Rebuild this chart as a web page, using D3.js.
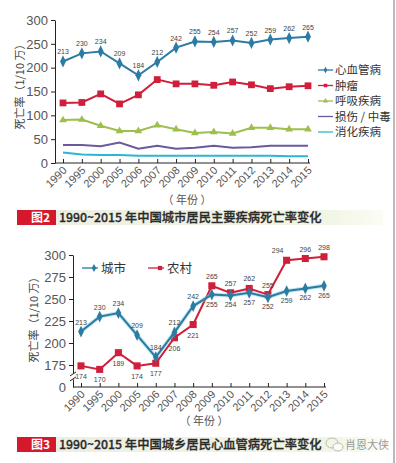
<!DOCTYPE html>
<html>
<head>
<meta charset="utf-8">
<script src="https://cdn.jsdelivr.net/npm/d3@7"></script>
<style>
  body { margin: 0; background: #fff; }
  svg { display: block; font-family: "Liberation Sans", Arial, sans-serif; }
  .cn { font-family: "Noto Sans CJK SC", sans-serif; }
  .tick text { fill: #555; }
  .domain, .tick line { stroke: #222; }
</style>
</head>
<body>
<div id="chart"></div>
<script>
// figure 2: urban residents, main diseases
const years = ["1990","1995","2000","2005","2006","2007","2008","2009","2010","2011","2012","2013","2014","2015"];
const cardio = [213, 230, 234, 209, 184, 212, 242, 255, 254, 257, 252, 259, 262, 265];
const tumor = [126, 127, 145, 124, 143, 175, 166, 166, 163, 170, 164, 156, 160, 162];
const respiratory = [90, 91, 78, 67, 67, 79, 71, 63, 65, 62, 74, 74, 71, 71];
const injury = [38, 38, 35, 43, 30, 36, 30, 32, 36, 32, 33, 36, 36, 36];
const digestive = [22, 18, 17, 17, 15, 15, 15, 15, 15, 15, 15, 15, 14, 14];
const yTicks1 = [0, 50, 100, 150, 200, 250, 300];

// figure 3: urban vs rural cardiovascular
const urban = [213, 230, 234, 209, 184, 212, 242, 255, 254, 257, 252, 259, 262, 265];
const rural = [174, 170, 189, 174, 177, 206, 221, 265, 257, 262, 255, 294, 296, 298];
const yTicks2 = [175, 200, 225, 250, 275, 300];

const W = 396, H = 463;
const svg = d3.select("#chart").append("svg").attr("width", W).attr("height", H);

const blue = "#2b7ba2", red = "#cf1f3a";

const series1 = [
    { name: "心血管病", values: cardio, color: blue, marker: "diamond", size: 30, labels: true },
    { name: "肿瘤", values: tumor, color: red, marker: "square", size: 46 },
    { name: "呼吸疾病", values: respiratory, color: "#9dbf4c", marker: "triangle", size: 26 },
    { name: "损伤 / 中毒", values: injury, color: "#6a5a9c" },
    { name: "消化疾病", values: digestive, color: "#2ab6d4" }
];

const symbolType = { diamond: d3.symbolDiamond, square: d3.symbolSquare, triangle: d3.symbolTriangle };

function drawCaption(y, num, text) {
    const defs = svg.append("defs");
    const gid = "cap" + num;
    const g = defs.append("linearGradient").attr("id", gid);
    g.append("stop").attr("offset", "0%").attr("stop-color", "#eceee3");
    g.append("stop").attr("offset", "85%").attr("stop-color", "#f1f5e4");
    g.append("stop").attr("offset", "100%").attr("stop-color", "#fbfcf6");
    svg.append("rect").attr("x", 17).attr("y", y).attr("width", 366).attr("height", 15)
        .attr("fill", `url(#${gid})`);
    svg.append("rect").attr("x", 17).attr("y", y).attr("width", 39).attr("height", 15)
        .attr("fill", "#d5182b");
    svg.append("text").attr("class", "cn").attr("x", 50).attr("y", y + 12)
        .attr("text-anchor", "end").attr("fill", "#fff").attr("font-size", 12).attr("font-weight", "bold")
        .text("图" + num);
    svg.append("text").attr("class", "cn").attr("x", 59).attr("y", y + 12)
        .attr("fill", "#2a2a2a").attr("font-size", 12.3).attr("font-weight", 500)
        .attr("stroke", "#2a2a2a").attr("stroke-width", 0.3)
        .text(text);
}

function drawYTitle(x, y) {
    svg.append("text").attr("class", "cn")
        .attr("transform", `translate(${x},${y}) rotate(-90)`)
        .attr("text-anchor", "middle").attr("fill", "#444").attr("font-size", 11)
        .text("死亡率（1/10 万）");
}

function drawXAxis(g, x, yPos, x0, x1) {
    const axis = g.append("g").attr("transform", `translate(0,${yPos})`)
        .call(d3.axisBottom(x).tickSize(-4).tickSizeOuter(0));
    axis.select(".domain").remove();
    g.append("line").attr("x1", x0).attr("x2", x1).attr("y1", yPos).attr("y2", yPos)
        .attr("stroke", "#222");
    axis.selectAll(".tick text")
        .attr("font-size", 11).attr("text-anchor", "end")
        .attr("dy", 0).attr("y", 0)
        .attr("transform", "translate(4,8) rotate(-45)");
}

// ---------- figure 2 ----------
const g1 = svg.append("g");
const x1 = d3.scalePoint().domain(years).range([63, 308]);
const y1 = d3.scaleLinear().domain([0, 300]).range([163, 20]);

const yAxis1 = g1.append("g").attr("transform", "translate(55,0)")
    .call(d3.axisLeft(y1).tickValues(yTicks1).tickSize(4).tickSizeOuter(0));
yAxis1.selectAll(".tick text").attr("font-size", 13).attr("fill", "#5a5a5a");
drawXAxis(g1, x1, 163, 55, 310);
drawYTitle(24, 84);

g1.append("text").attr("class", "cn").attr("x", 187).attr("y", 204)
    .attr("text-anchor", "middle").attr("fill", "#555").attr("font-size", 11)
    .text("（ 年份 ）");

series1.slice().reverse().forEach(s => {
    const line = d3.line().x((d, i) => x1(years[i])).y(d => y1(d));
    g1.append("path").datum(s.values).attr("d", line)
        .attr("fill", "none").attr("stroke", s.color).attr("stroke-width", 2);
    if (s.marker) {
        g1.selectAll(null).data(s.values).enter().append("path")
            .attr("transform", (d, i) => `translate(${x1(years[i])},${y1(d)})${s.marker === "diamond" ? " scale(1,1.2)" : ""}`)
            .attr("d", d3.symbol().type(symbolType[s.marker]).size(s.size))
            .attr("fill", s.color);
    }
    if (s.labels) {
        g1.selectAll(null).data(s.values).enter().append("text")
            .attr("x", (d, i) => x1(years[i]))
            .attr("y", d => y1(d) - 7)
            .attr("text-anchor", "middle").attr("font-size", 7).attr("fill", "#444")
            .text(d => d);
    }
});

// legend
const leg1 = g1.append("g").attr("transform", "translate(318,70)");
series1.forEach((s, i) => {
    const row = leg1.append("g").attr("transform", `translate(0,${i * 15.5})`);
    row.append("line").attr("x1", 0).attr("x2", 15).attr("stroke", s.color).attr("stroke-width", 1.3);
    if (s.marker) {
        row.append("path").attr("transform", "translate(7.5,0)")
            .attr("d", d3.symbol().type(symbolType[s.marker]).size(12)).attr("fill", s.color);
    }
    row.append("text").attr("class", "cn").attr("x", 17).attr("y", 4)
        .attr("font-size", 11.5).attr("fill", "#333").text(s.name);
});

drawCaption(210, 2, "1990~2015 年中国城市居民主要疾病死亡率变化");

// ---------- figure 3 ----------
const g2 = svg.append("g");
const x2 = d3.scalePoint().domain(years).range([81, 324]);
const y2 = d3.scaleLinear().domain([150, 300]).range([387, 255]);

const yAxis2 = g2.append("g").attr("transform", "translate(73,0)")
    .call(d3.axisLeft(y2).tickValues([150].concat(yTicks2)).tickSize(4).tickSizeOuter(0)
        .tickFormat(d => d === 150 ? "0" : d));
yAxis2.selectAll(".tick text").attr("font-size", 13).attr("fill", "#5a5a5a");
yAxis2.selectAll(".tick line").filter(d => d === 150).remove();
// axis break
const by = y2(162);
g2.append("rect").attr("x", 70).attr("y", by - 3).attr("width", 6).attr("height", 6).attr("fill", "#fff");
[-2.5, 2.5].forEach(o => {
    g2.append("line").attr("x1", 70).attr("x2", 76).attr("y1", by + o + 2).attr("y2", by + o - 2)
        .attr("stroke", "#222").attr("stroke-width", 1);
});
drawXAxis(g2, x2, 387, 73, 326);
drawYTitle(38, 317);

g2.append("text").attr("class", "cn").attr("x", 204).attr("y", 425)
    .attr("text-anchor", "middle").attr("fill", "#555").attr("font-size", 11)
    .text("（ 年份 ）");

const series2 = [
    { name: "农村", values: rural, color: red, marker: "square", size: 50 },
    { name: "城市", values: urban, color: blue, marker: "diamond", size: 28 }
];

series2.forEach(s => {
    const line = d3.line().x((d, i) => x2(years[i])).y(d => y2(d));
    if (s.name === "城市") {
        g2.append("path").datum(s.values).attr("d", line)
            .attr("fill", "none").attr("stroke", "#8fd3e6").attr("stroke-width", 4).attr("opacity", 0.6);
    }
    g2.append("path").datum(s.values).attr("d", line)
        .attr("fill", "none").attr("stroke", s.color).attr("stroke-width", 2);
    g2.selectAll(null).data(s.values).enter().append("path")
        .attr("transform", (d, i) => `translate(${x2(years[i])},${y2(d)})${s.marker === "diamond" ? " scale(1,1.2)" : ""}`)
        .attr("d", d3.symbol().type(symbolType[s.marker]).size(s.size))
        .attr("fill", s.color);
});

// value labels: the higher series gets its label above the point
urban.forEach((u, i) => {
    const r = rural[i];
    const uAbove = u >= r;
    g2.append("text").attr("x", x2(years[i])).attr("y", uAbove ? y2(u) - 7 : y2(u) + 12)
        .attr("text-anchor", "middle").attr("font-size", 7).attr("fill", "#444").text(u);
    g2.append("text").attr("x", x2(years[i]) + (i === 11 ? -9 : 0))
        .attr("y", uAbove ? y2(r) + 13 : y2(r) - 7)
        .attr("text-anchor", "middle").attr("font-size", 7).attr("fill", "#444").text(r);
});

// legend
const leg2 = g2.append("g").attr("transform", "translate(82,268)");
[series2[1], series2[0]].forEach((s, i) => {
    const item = leg2.append("g").attr("transform", `translate(${i * 66},0)`);
    item.append("line").attr("x1", 0).attr("x2", 16).attr("stroke", s.color).attr("stroke-width", 1.3);
    item.append("path").attr("transform", "translate(12,0)")
        .attr("d", d3.symbol().type(symbolType[s.marker]).size(18)).attr("fill", s.color);
    item.append("text").attr("class", "cn").attr("x", 19).attr("y", 4.5)
        .attr("font-size", 12.5).attr("fill", "#333").text(s.name);
});

drawCaption(437, 3, "1990~2015 年中国城乡居民心血管病死亡率变化");

// watermark
svg.append("ellipse").attr("cx", 332).attr("cy", 443).attr("rx", 6).attr("ry", 5)
    .attr("fill", "none").attr("stroke", "#bbb");
svg.append("ellipse").attr("cx", 338).attr("cy", 447).attr("rx", 5).attr("ry", 4)
    .attr("fill", "#fbfcf6").attr("stroke", "#bbb");
svg.append("text").attr("class", "cn").attr("x", 345).attr("y", 449)
    .attr("font-size", 11).attr("fill", "#999").text("肖恩大侠");

// right frame line
svg.append("line").attr("x1", 394).attr("x2", 394).attr("y1", 0).attr("y2", H)
    .attr("stroke", "#777").attr("stroke-width", 1);
</script>
</body>
</html>
